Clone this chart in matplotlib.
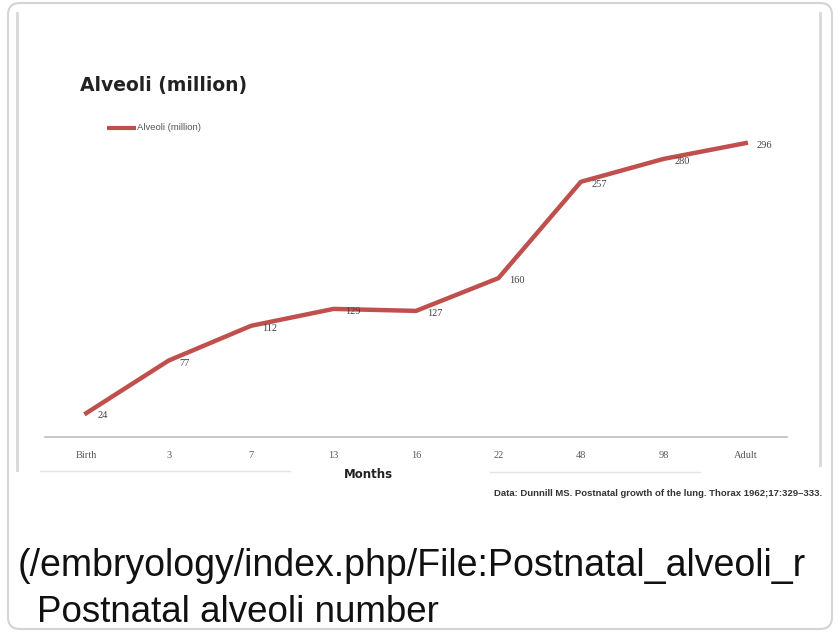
import matplotlib
matplotlib.use("Agg")
import matplotlib.pyplot as plt
from matplotlib.patches import FancyBboxPatch

months = ["Birth", "3", "7", "13", "16", "22", "48", "98", "Adult"]
alveoli = [24, 77, 112, 129, 127, 160, 257, 280, 296]

title = "Alveoli (million)"
series_name = "Alveoli (million)"
x_title = "Months"
source = "Data: Dunnill MS. Postnatal growth of the lung. Thorax 1962;17:329\u2013333."
url_text = "(/embryology/index.php/File:Postnatal_alveoli_r"
caption = "Postnatal alveoli number"

W, H = 840, 634
fig = plt.figure(figsize=(W / 100, H / 100), dpi=100)
fig.patch.set_facecolor("white")

# pixel-space background axes
bg = fig.add_axes([0, 0, 1, 1])
bg.set_xlim(0, W)
bg.set_ylim(H, 0)
bg.axis("off")

card = FancyBboxPatch((8, 3), 824, 626, boxstyle="round,pad=0,rounding_size=12",
                      facecolor="white", edgecolor="#d4d4d4", linewidth=1.5)
bg.add_patch(card)
# inner image frame lines
bg.plot([17, 17], [13, 470], color="#d8d8d8", lw=2)
bg.plot([820, 820], [13, 465], color="#d8d8d8", lw=2)
bg.plot([40, 290], [471, 471], color="#e4e4e4", lw=1)
bg.plot([490, 700], [472, 472], color="#e4e4e4", lw=1)

bg.text(80, 85, title, fontsize=13.5, fontweight="bold", color="#222222",
        family="DejaVu Sans", va="center", ha="left")
bg.plot([107, 136], [128, 128], color="#c0504d", lw=3, solid_capstyle="butt")
bg.text(137, 128, series_name, fontsize=6.8, color="#555555", va="center", ha="left",
        family="Liberation Sans")
bg.text(368, 474, x_title, fontsize=8.5, fontweight="bold", color="#222222",
        va="center", ha="center", family="DejaVu Sans")
bg.text(822, 494, source, fontsize=6.8, fontweight="bold", color="#333333",
        va="center", ha="right", family="Liberation Sans")

bg.text(18, 566, url_text, fontsize=27, color="#111111", va="center", ha="left",
        family="Liberation Sans")
bg.text(37, 612, caption, fontsize=26.5, color="#111111", va="center", ha="left",
        family="Liberation Sans")

# main chart axes
px_per_unit = 0.993
ymax = 340
left_px, right_px, bottom_px = 45, 787, 437
ax = fig.add_axes([left_px / W, (H - bottom_px) / H, (right_px - left_px) / W,
                   ymax * px_per_unit / H])
ax.patch.set_alpha(0)
xs = list(range(len(months)))
ax.plot(xs, alveoli, color="#c0504d", lw=3.2, solid_joinstyle="round")
ax.set_xlim(-0.5, len(months) - 0.5)
ax.set_ylim(0, ymax)
for s in ["top", "right", "left"]:
    ax.spines[s].set_visible(False)
ax.spines["bottom"].set_color("#bfbfbf")
ax.spines["bottom"].set_linewidth(1.2)
ax.set_yticks([])
ax.set_xticks(xs)
ax.set_xticklabels(months, fontsize=7.5, color="#595959", family="Liberation Serif")
ax.tick_params(axis="x", length=0, pad=10)
for x, v in zip(xs, alveoli):
    ax.annotate(str(v), (x, v), xytext=(8, -2), textcoords="offset points",
                fontsize=7.5, color="#404040", family="Liberation Serif",
                ha="left", va="center")

fig.savefig("out.png", dpi=100, facecolor="white")
